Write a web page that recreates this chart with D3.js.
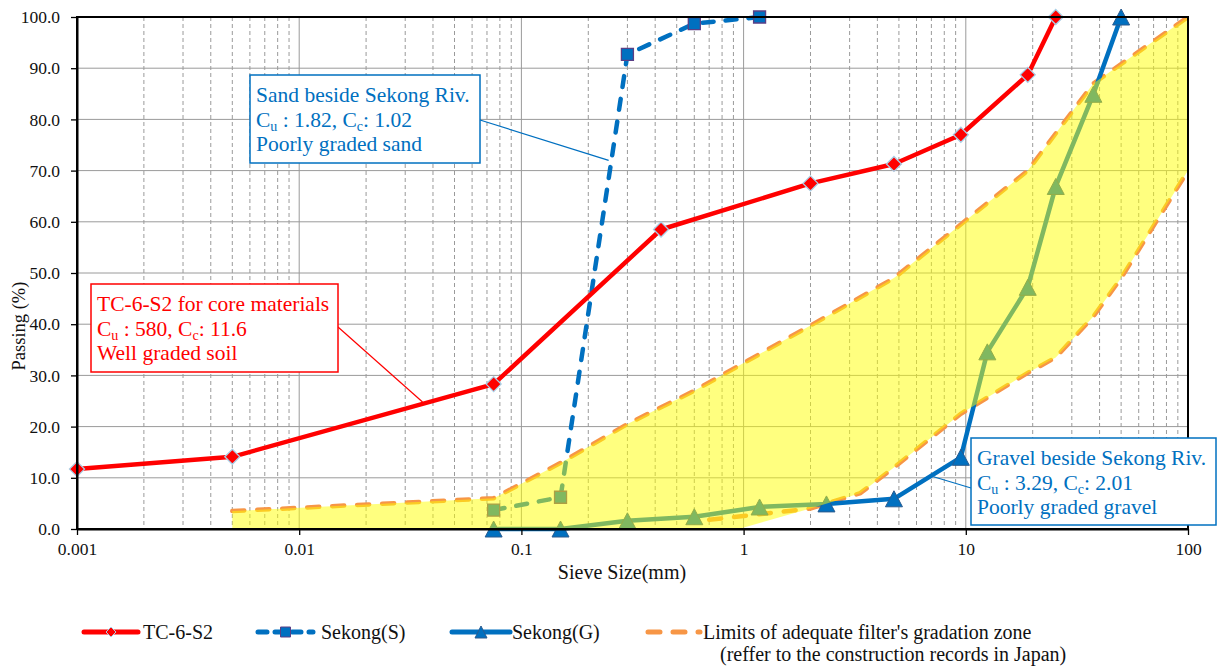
<!DOCTYPE html>
<html><head><meta charset="utf-8">
<script src="https://cdn.jsdelivr.net/npm/d3@7"></script>
<style>
body{margin:0;background:#fff}
svg{display:block}
</style>
</head><body>
<svg id="c" width="1217" height="666"></svg>
<script>
// ---------- data ----------
const sieveTC = [0.001, 0.005, 0.075, 0.425, 2, 4.75, 9.5, 19, 25.4];
const passTC  = [11.7, 14.1, 28.3, 58.5, 67.5, 71.3, 77.0, 88.7, 100];

const sieveS = [0.075, 0.15, 0.3, 0.6, 1.18];
const passS  = [3.7, 6.2, 92.7, 98.7, 100];

const sieveG = [0.075, 0.15, 0.3, 0.6, 1.18, 2.36, 4.75, 9.5, 12.5, 19, 25.4, 37.5, 50];
const passG  = [0, 0, 1.6, 2.4, 4.3, 4.9, 5.9, 14.0, 34.6, 47.2, 66.9, 84.9, 100];

const upperSize = [0.005, 0.075, 0.15, 0.3, 0.6, 2.36, 4.75, 19, 37.5, 100];
const upperPass = [3.5, 6.0, 12.9, 20.5, 27.0, 41.5, 49.0, 70.0, 87.0, 100];

const lowerSize = [0.7, 2, 3.35, 4.75, 9.5, 19, 25.4, 37.5, 50, 100];
const lowerPass = [1.8, 4.0, 7.0, 12.0, 22.5, 30.5, 33.5, 41.5, 49.0, 70.0];

const floorSize = [0.005, 0.95];   // zone fill rests on the axis here
const floorPass = [0, 0];

const yTicks = [0, 10, 20, 30, 40, 50, 60, 70, 80, 90, 100];
const yTickLabels = ["0.0","10.0","20.0","30.0","40.0","50.0","60.0","70.0","80.0","90.0","100.0"];
const xTicks = [0.001, 0.01, 0.1, 1, 10, 100];
const xTickLabels = ["0.001","0.01","0.1","1","10","100"];

const legendNames = ["TC-6-S2", "Sekong(S)", "Sekong(G)", "Limits of adequate filter's gradation zone"];
const legendNote = "(reffer to the construction records in Japan)";

// ---------- layout ----------
const FONT = "'Liberation Serif', 'Times New Roman', Times, serif";
const L = 77, R = 1188, T = 17, B = 529;
const RED = "#FF0000", BLUE = "#0070C0", ORANGE = "#F79646";
const x = d3.scaleLog().domain([0.001, 100]).range([L, R]);
const y = d3.scaleLinear().domain([0, 100]).range([B, T]);
const svg = d3.select("#c").attr("font-family", FONT);

const zip = (a, b) => a.map((v, i) => [v, b[i]]);
const line = d3.line().x(d => x(d[0])).y(d => y(d[1]));

// ---------- grid ----------
const grid = svg.append("g");
x.ticks().forEach(v => {
  const major = Math.abs(Math.log10(v) - Math.round(Math.log10(v))) < 1e-9;
  grid.append("line")
    .attr("x1", x(v)).attr("x2", x(v)).attr("y1", T).attr("y2", B)
    .attr("stroke", "#9a9a9a").attr("stroke-width", 1)
    .attr("stroke-dasharray", major ? null : "4,3");
});
yTicks.forEach(v => {
  grid.append("line")
    .attr("x1", L).attr("x2", R).attr("y1", y(v)).attr("y2", y(v))
    .attr("stroke", "#9a9a9a").attr("stroke-width", 1);
});

// ---------- limit lines ----------
[zip(upperSize, upperPass), zip(lowerSize, lowerPass)].forEach(pts => {
  svg.append("path").attr("d", line(pts)).attr("fill", "none")
    .attr("stroke", ORANGE).attr("stroke-width", 4.5)
    .attr("stroke-dasharray", "12,13").attr("stroke-linecap", "round");
});

// ---------- series ----------
function diamond(r){ return `M0,${-r}L${r},0L0,${r}L${-r},0Z`; }
function square(s){ return `M${-s/2},${-s/2}h${s}v${s}h${-s}Z`; }
function tri(w, h){ return `M0,${-h/2}L${w/2},${h/2}L${-w/2},${h/2}Z`; }

// Sekong(G)
const dG = zip(sieveG, passG);
svg.append("path").attr("d", line(dG)).attr("fill", "none")
  .attr("stroke", BLUE).attr("stroke-width", 4.5).attr("stroke-linejoin", "round");
svg.append("g").selectAll("path").data(dG).join("path")
  .attr("transform", d => `translate(${x(d[0])},${y(d[1])})`)
  .attr("d", tri(17, 16)).attr("fill", BLUE).attr("stroke", "#2a5b8f").attr("stroke-width", 1);

// Sekong(S)
const dS = zip(sieveS, passS);
svg.append("path").attr("d", line(dS)).attr("fill", "none")
  .attr("stroke", BLUE).attr("stroke-width", 4.5)
  .attr("stroke-dasharray", "11,12").attr("stroke-linecap", "round");
svg.append("g").selectAll("path").data(dS).join("path")
  .attr("transform", d => `translate(${x(d[0])},${y(d[1])})`)
  .attr("d", square(12)).attr("fill", BLUE).attr("stroke", "#5a3f86").attr("stroke-width", 1.3);

// TC-6-S2
const dT = zip(sieveTC, passTC);
svg.append("path").attr("d", line(dT)).attr("fill", "none")
  .attr("stroke", RED).attr("stroke-width", 4.5).attr("stroke-linejoin", "round");
svg.append("g").selectAll("path").data(dT).join("path")
  .attr("transform", d => `translate(${x(d[0])},${y(d[1])})`)
  .attr("d", diamond(7.5)).attr("fill", RED).attr("stroke", "#a9cfe6").attr("stroke-width", 1.3);

// ---------- yellow zone (semi-transparent, over the lines) ----------
const zoneTop = zip(upperSize, upperPass);
const zoneBottom = zip(floorSize, floorPass).concat(zip(lowerSize, lowerPass).filter(d => d[0] >= 2));
const zonePoly = zoneTop.concat(zoneBottom.slice().reverse());
svg.append("path").attr("d", line(zonePoly) + "Z")
  .attr("fill", "#FFFF00").attr("fill-opacity", 0.5).attr("stroke", "none");

// ---------- frame & axes ----------
svg.append("rect").attr("x", L).attr("y", T).attr("width", R - L).attr("height", B - T)
  .attr("fill", "none").attr("stroke", "#000").attr("stroke-width", 2);

const yAxis = svg.append("g").attr("transform", `translate(${L},0)`)
  .call(d3.axisLeft(y).tickValues(yTicks).tickFormat((d, i) => yTickLabels[i]).tickSize(6).tickSizeOuter(0));
yAxis.attr("font-family", FONT).attr("font-size", 17.5);
yAxis.select(".domain").attr("stroke", "#000").attr("stroke-width", 2);
yAxis.selectAll("line").attr("stroke", "#000").attr("stroke-width", 1.3);
yAxis.selectAll("text").attr("x", -17).attr("fill", "#111");

const xAxis = svg.append("g").attr("transform", `translate(0,${B})`)
  .call(d3.axisBottom(x).tickValues(xTicks).tickFormat((d, i) => xTickLabels[i]).tickSize(6).tickSizeOuter(0));
xAxis.attr("font-family", FONT).attr("font-size", 17.5);
xAxis.select(".domain").attr("stroke", "#000").attr("stroke-width", 2);
xAxis.selectAll("line").attr("stroke", "#000").attr("stroke-width", 1.3);
xAxis.selectAll("text").attr("y", 14).attr("fill", "#111");

svg.append("text").attr("x", 622).attr("y", 579).attr("text-anchor", "middle")
  .attr("font-size", 20).attr("fill", "#111").text("Sieve Size(mm)");
svg.append("text").attr("transform", "translate(25,326) rotate(-90)").attr("text-anchor", "middle")
  .attr("font-size", 18.5).attr("fill", "#111").text("Passing (%)");

// ---------- annotations ----------
function note(box, lines, color, tip, from) {
  const g = svg.append("g");
  g.append("line").attr("x1", from[0]).attr("y1", from[1])
    .attr("x2", x(tip[0])).attr("y2", y(tip[1]))
    .attr("stroke", color).attr("stroke-width", 1.2);
  g.append("rect").attr("x", box[0]).attr("y", box[1]).attr("width", box[2]).attr("height", box[3])
    .attr("fill", "#fff").attr("stroke", color).attr("stroke-width", 1.5);
  lines.forEach((ln, i) => {
    const t = g.append("text").attr("x", box[0] + 6).attr("y", box[1] + 27 + i * 24.6)
      .attr("font-size", 21.5).attr("fill", color);
    ln.forEach(seg => {
      if (typeof seg === "string") t.append("tspan").text(seg);
      else t.append("tspan").attr("font-size", 14).attr("baseline-shift", "-25%").text(seg.sub);
    });
  });
}
note([250, 75, 230, 88],
  [["Sand beside Sekong Riv."], ["C", {sub: "u"}, " : 1.82, C", {sub: "c"}, ": 1.02"], ["Poorly graded sand"]],
  BLUE, [0.247, 72], [480, 120]);
note([91, 284, 247, 88],
  [["TC-6-S2 for core materials"], ["C", {sub: "u"}, " : 580, C", {sub: "c"}, ": 11.6"], ["Well graded soil"]],
  RED, [0.0359, 24.8], [338, 327]);
note([971, 438, 245, 87],
  [["Gravel beside Sekong Riv."], ["C", {sub: "u"}, " : 3.29, C", {sub: "c"}, ": 2.01"], ["Poorly graded gravel"]],
  BLUE, [7.16, 10.2], [971, 488]);

// ---------- legend ----------
const lg = svg.append("g");
const LY = 632;
const items = [
  {x0: 84, x1: 138, tx: 143, color: RED, dash: null, mark: diamond(5), mfill: RED, mstroke: "#a9cfe6"},
  {x0: 258, x1: 313, tx: 321, color: BLUE, dash: "9,8", mark: square(10), mfill: BLUE, mstroke: "#5a3f86"},
  {x0: 452, x1: 510, tx: 512, color: BLUE, dash: null, mark: tri(12, 12), mfill: BLUE, mstroke: "#2a5b8f"},
  {x0: 648, x1: 700, tx: 703, color: ORANGE, dash: "12,13", mark: null}
];
items.forEach((it, i) => {
  lg.append("line").attr("x1", it.x0).attr("x2", it.x1).attr("y1", LY).attr("y2", LY)
    .attr("stroke", it.color).attr("stroke-width", 5)
    .attr("stroke-linecap", "round").attr("stroke-dasharray", it.dash);
  if (it.mark) lg.append("path").attr("transform", `translate(${(it.x0 + it.x1) / 2},${LY})`)
    .attr("d", it.mark).attr("fill", it.mfill).attr("stroke", it.mstroke).attr("stroke-width", 1);
  lg.append("text").attr("x", it.tx).attr("y", LY + 7).attr("font-size", 20).attr("fill", "#111")
    .text(legendNames[i]);
});
lg.append("text").attr("x", 720).attr("y", 661).attr("font-size", 20).attr("fill", "#111").text(legendNote);
</script>
</body></html>
